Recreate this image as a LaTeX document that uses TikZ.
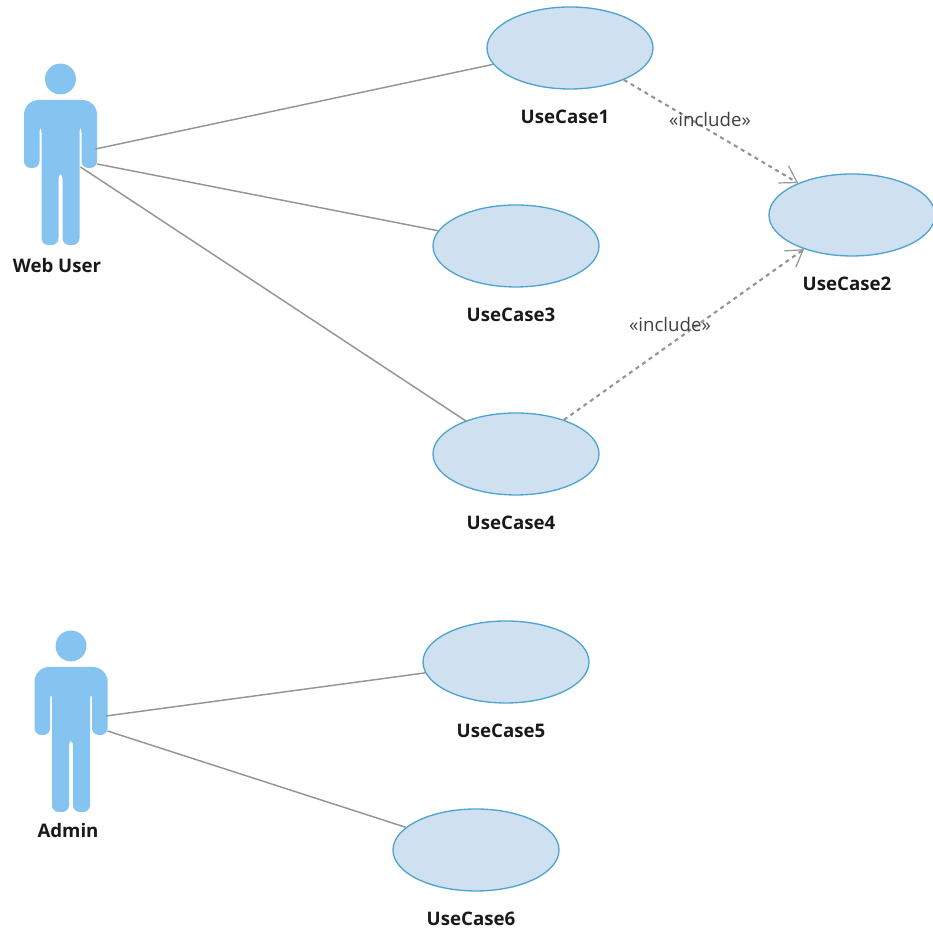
\documentclass[tikz,border=0pt]{standalone}
\usepackage{fontspec}
\setmainfont{Open Sans}
\usepackage{tikz}
\usetikzlibrary{shapes.geometric, arrows.meta}
\definecolor{actorblue}{HTML}{85C4F0}
\definecolor{casefill}{HTML}{CFE0F0}
\definecolor{caseline}{HTML}{4FA3CF}
\definecolor{linegray}{HTML}{959595}
\tikzstyle{usecase} = [ellipse, inner sep=0pt, minimum width=124.5pt, minimum height=61.5pt, draw=caseline, fill=casefill, line width=1pt]
\tikzstyle{caselabel} = [font=\bfseries\fontsize{14}{16}\selectfont, text=black!90, below of=#1, node distance=52pt, xshift=-3.75pt]
\tikzstyle{actorlabel} = [font=\bfseries\fontsize{14}{16}\selectfont, text=black!90]
\tikzstyle{inclabel} = [font=\fontsize{14}{16}\selectfont, text=black!75]
\tikzstyle{assoc} = [draw=linegray, line width=1.1pt]
\tikzstyle{arrow} = [draw=linegray, line width=1.6pt, dash pattern=on 3pt off 3pt, -{Straight Barb[length=12pt, width=15pt, line width=0.9pt]}]
\tikzset{
	actorfig/.pic = {
		\fill[actorblue] (0,0) circle (11.6pt);
		\fill[actorblue, rounded corners=5pt] (-2,-93) -- (-2,-166) -- (-19,-166) -- (-19,-46) -- (-21,-46) -- (-21,-89) -- (-36.5,-89) -- (-36.5,-40) [rounded corners=11pt] -- (-36.5,-21) -- (36.5,-21) -- (36.5,-40) [rounded corners=5pt] -- (36.5,-89) -- (21,-89) -- (21,-46) -- (19,-46) -- (19,-166) -- (2,-166) -- (2,-93) -- cycle;
		\coordinate (-a) at (35,-70);
		\coordinate (-b) at (36.5,-85);
		\coordinate (-c) at (20,-88);
	}
}

\begin{document}
\begin{tikzpicture}[x=0.75pt, y=0.75pt]
	\useasboundingbox (0,0) rectangle (933,930);
	\pic (web) at (60.5,851) {actorfig};
	\pic (admin) at (71,284) {actorfig};
	\node (webname) [actorlabel] at (57,664) {Web User};
	\node (adminname) [actorlabel] at (68,99) {Admin};

	\node (uc1) [usecase] at (570,882) {};
	\node (uc2) [usecase] at (852,715) {};
	\node (uc3) [usecase] at (516,684) {};
	\node (uc4) [usecase] at (516,476) {};
	\node (uc5) [usecase] at (506,268) {};
	\node (uc6) [usecase] at (476,80) {};

	\node (name1) [caselabel=uc1] {UseCase1};
	\node (name2) [caselabel=uc2] {UseCase2};
	\node (name3) [caselabel=uc3] {UseCase3};
	\node (name4) [caselabel=uc4] {UseCase4};
	\node (name5) [caselabel=uc5] {UseCase5};
	\node (name6) [caselabel=uc6] {UseCase6};

	\draw [assoc](web-a) -- (uc1);
	\draw [assoc](web-b) -- (uc3);
	\draw [assoc](web-c) -- (uc4);
	\draw [assoc](admin-a) -- (uc5);
	\draw [assoc](admin-b) -- (uc6);

	\draw [arrow](uc1) -- (uc2);
	\draw [arrow](uc4) -- (uc2);
	\node (inc1) [inclabel] at (710,810) {«include»};
	\node (inc2) [inclabel] at (670,605) {«include»};
\end{tikzpicture}
\end{document}
